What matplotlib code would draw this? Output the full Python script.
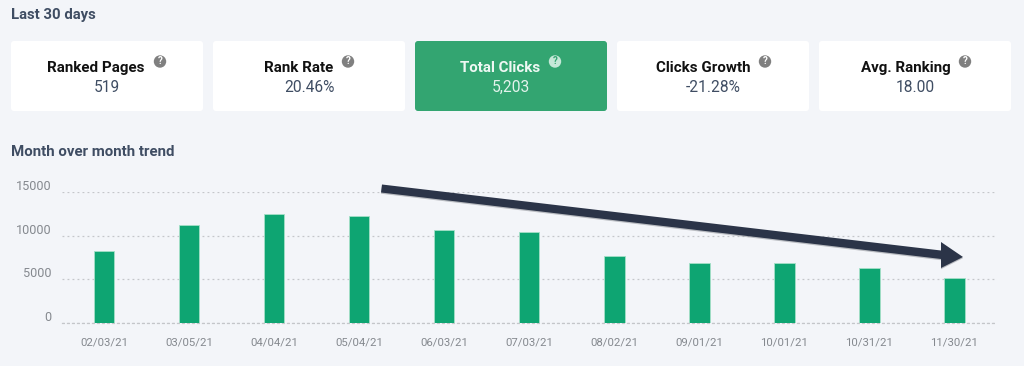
import matplotlib
matplotlib.use('Agg')
import matplotlib.pyplot as plt
from matplotlib.patches import FancyBboxPatch, Circle, Polygon
from matplotlib.transforms import ScaledTranslation

plt.rcParams['font.family'] = ['Roboto', 'DejaVu Sans']

dates = ['02/03/21', '03/05/21', '04/04/21', '05/04/21', '06/03/21', '07/03/21',
         '08/02/21', '09/01/21', '10/01/21', '10/31/21', '11/30/21']
clicks = [8280, 11165, 12495, 12190, 10635, 10405, 7710, 6835, 6835, 6340, 5203]
y_ticks = [0, 5000, 10000, 15000]

card_titles = ['Ranked Pages', 'Rank Rate', 'Total Clicks', 'Clicks Growth', 'Avg. Ranking']
card_values = ['519', '20.46%', '5,203', '-21.28%', '18.00']
active_card = 'Total Clicks'

bg = '#f3f5f9'
green = '#0ea572'
card_green = '#33a571'
slate = '#3f4d63'
arrow_col = '#2b3448'

W, H = 1024, 366
fig = plt.figure(figsize=(W / 100, H / 100), dpi=100, facecolor=bg)

# overlay in pixel coords, for the cards and headings
top = fig.add_axes([0, 0, 1, 1], zorder=1)
top.set_xlim(0, W)
top.set_ylim(H, 0)
top.axis('off')

top.text(11, 15.5, 'Last 30 days', fontsize=10.7, fontweight='bold', color=slate, va='center')
top.text(11, 151.5, 'Month over month trend', fontsize=10.8, fontweight='bold', color=slate, va='center')

# (title centre, icon centre) per card
title_x = [96, 298.5, 500.5, 703, 905.5]
icon_x = [160, 348, 555, 765, 965]
for i, name in enumerate(card_titles):
    x0 = 11 + i * 202
    on = name == active_card
    top.add_patch(FancyBboxPatch((x0, 41), 192, 70, boxstyle='round,pad=0,rounding_size=3',
                                 lw=0, fc=card_green if on else 'white'))
    top.text(title_x[i], 68, name, ha='center', va='center', fontsize=10.9, fontweight='bold',
             color='#eef8f3' if on else '#111111')
    top.text(x0 + 96, 87.5, card_values[i], ha='center', va='center', fontsize=11.2,
             color='#e3f3ec' if on else slate)
    top.add_patch(Circle((icon_x[i], 61.5), 6.2, fc='#c5e8d8' if on else '#808080', lw=0))
    top.text(icon_x[i], 61.5, '?', ha='center', va='center', fontsize=7, fontweight='bold',
             color=card_green if on else 'white')

# bar chart
ax = fig.add_axes([61.5 / W, 1 - 323.3 / H, (997 - 61.5) / W, (323.3 - 191.7) / H], zorder=0)
ax.set_facecolor('none')
ax.bar(range(len(dates)), clicks, width=0.24, color=green, edgecolor='#a5e0c8', linewidth=0.6, zorder=3)
ax.set_xlim(-0.5, len(dates) - 0.5)
ax.set_ylim(0, 15000)
ax.set_yticks(y_ticks)
ax.set_xticks(range(len(dates)))
ax.set_xticklabels(dates)
ax.grid(axis='y', color='#c4c6ca', linestyle=(0, (1.5, 2.5)), linewidth=0.9, zorder=0)
ax.set_axisbelow(True)
for s in ax.spines.values():
    s.set_visible(False)
ax.spines['bottom'].set_visible(True)
ax.spines['bottom'].set_color('#c4c6ca')
ax.spines['bottom'].set_linestyle((0, (1.5, 2.5)))
ax.spines['bottom'].set_linewidth(0.9)
ax.tick_params(axis='x', length=0, pad=10, labelsize=8.2, labelcolor='#85898f')
ax.tick_params(axis='y', length=0, pad=7, labelsize=9.1, labelcolor='#85898f')
# y labels sit above their grid lines
for lab in ax.get_yticklabels():
    lab.set_transform(lab.get_transform() + ScaledTranslation(0, 7 / 100, fig.dpi_scale_trans))

# hand drawn arrow on top of the chart
shaft = [(382, 184.5), (941, 250.5), (941, 242), (963, 257), (941, 268), (941, 259), (381, 192.5)]
top.add_patch(Polygon([(x, y + 1.2) for x, y in shaft], closed=True, fc='#8a8d94', lw=0, alpha=0.55))
top.add_patch(Polygon(shaft, closed=True, fc=arrow_col, lw=0))

fig.savefig('out.png', dpi=100, facecolor=bg)
